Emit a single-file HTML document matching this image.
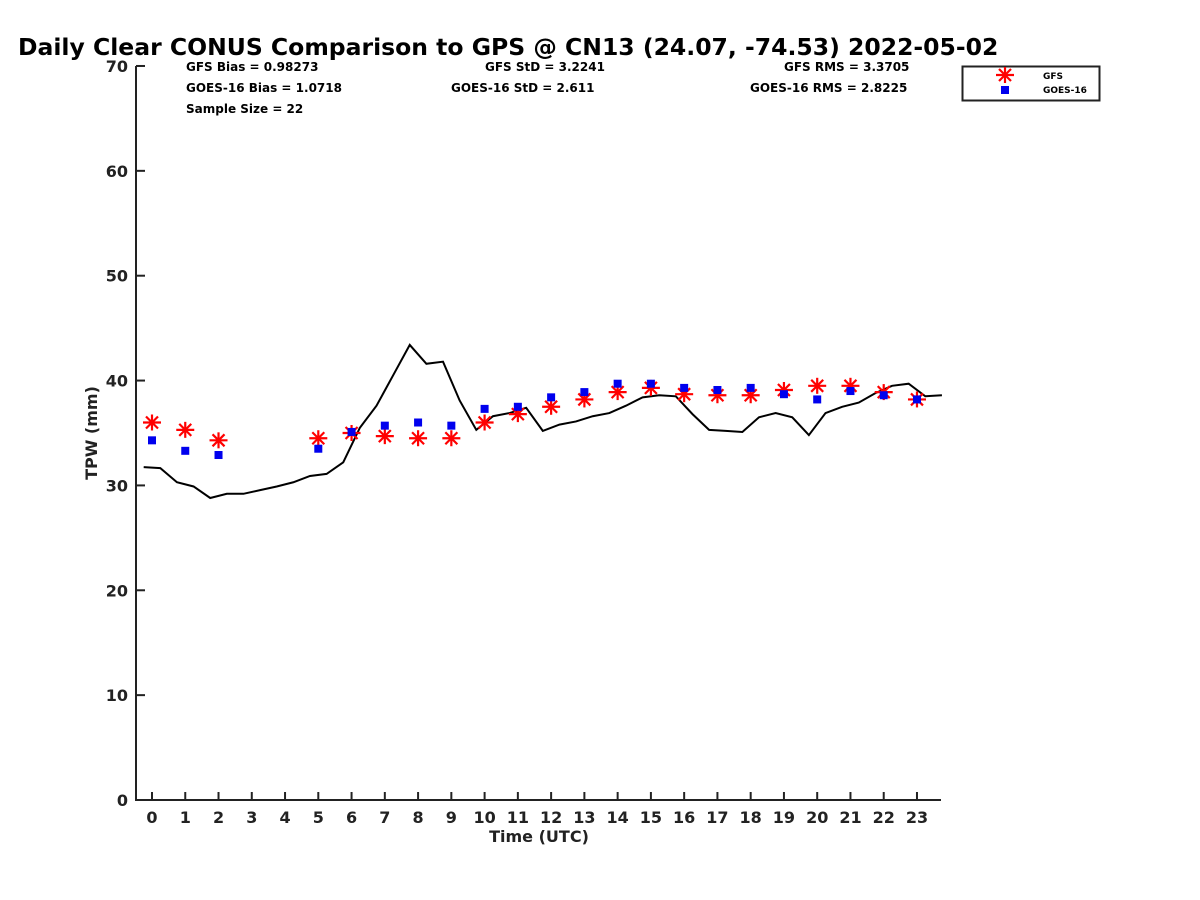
<!DOCTYPE html>
<html><head><meta charset="utf-8"><style>
body{margin:0;background:#fff;}
svg{display:block;font-family:"DejaVu Sans","Liberation Sans",sans-serif;}
</style></head><body>
<svg id="chart" width="1200" height="900">
<text x="18" y="55" font-size="23.5" font-weight="bold">Daily Clear CONUS Comparison to GPS @ CN13 (24.07, -74.53) 2022-05-02</text>
<g font-size="12" font-weight="bold">
<text x="186" y="71">GFS Bias = 0.98273</text>
<text x="186" y="92">GOES-16 Bias = 1.0718</text>
<text x="186" y="113">Sample Size = 22</text>
<text x="485" y="71">GFS StD = 3.2241</text>
<text x="451" y="92">GOES-16 StD = 2.611</text>
<text x="784" y="71">GFS RMS = 3.3705</text>
<text x="750" y="92">GOES-16 RMS = 2.8225</text>
</g>
<g id="axes"></g>
<g id="marks"></g>
<g>
<rect x="962.5" y="66.5" width="137" height="34" fill="#fff" stroke="#222" stroke-width="2"/>
<g stroke="red" stroke-width="2.2">
<line x1="996" y1="75" x2="1014" y2="75"/><line x1="1005" y1="67" x2="1005" y2="83"/>
<line x1="999" y1="69" x2="1011" y2="81"/><line x1="999" y1="81" x2="1011" y2="69"/></g>
<rect x="1001" y="86" width="8" height="8" fill="#0000ee"/>
<text x="1043" y="79" font-size="9" font-weight="bold">GFS</text>
<text x="1043" y="93" font-size="9" font-weight="bold">GOES-16</text>
</g>
</svg>
<script>
const hours=[0,1,2,5,6,7,8,9,10,11,12,13,14,15,16,17,18,19,20,21,22,23];
const gfs=[36.0,35.3,34.3,34.5,35.0,34.7,34.5,34.5,36.0,36.8,37.5,38.2,38.9,39.3,38.7,38.6,38.6,39.1,39.5,39.5,38.9,38.2];
const goes=[34.3,33.3,32.9,33.5,35.1,35.7,36.0,35.7,37.3,37.5,38.4,38.9,39.7,39.7,39.3,39.1,39.3,38.7,38.2,39.0,38.6,38.2];
const gpsTimes=[-0.25,0.25,0.75,1.25,1.75,2.25,2.75,3.25,3.75,4.25,4.75,5.25,5.75,6.25,6.75,7.25,7.75,8.25,8.75,9.25,9.75,10.25,10.75,11.25,11.75,12.25,12.75,13.25,13.75,14.25,14.75,15.25,15.75,16.25,16.75,17.25,17.75,18.25,18.75,19.25,19.75,20.25,20.75,21.25,21.75,22.25,22.75,23.25,23.75];
const gps=[31.75,31.65,30.3,29.9,28.8,29.2,29.2,29.55,29.9,30.3,30.9,31.1,32.2,35.5,37.6,40.5,43.4,41.6,41.8,38.1,35.3,36.6,36.9,37.4,35.2,35.8,36.1,36.6,36.9,37.6,38.4,38.6,38.5,36.8,35.3,35.2,35.1,36.5,36.9,36.5,34.8,36.9,37.5,37.9,38.8,39.5,39.7,38.5,38.6];
const yTicks=[0,10,20,30,40,50,60,70];
const xTicks=[0,1,2,3,4,5,6,7,8,9,10,11,12,13,14,15,16,17,18,19,20,21,22,23];
const NS='http://www.w3.org/2000/svg';
const X=v=>152+v*33.26;
const Y=v=>800-v*10.486;
function mk(tag,attrs,parent){const e=document.createElementNS(NS,tag);for(const k in attrs)e.setAttribute(k,attrs[k]);parent.appendChild(e);return e;}
const ax=document.getElementById('axes'),mg=document.getElementById('marks');
let e=mk('line',{x1:136,y1:800,x2:941,y2:800,stroke:'#222','stroke-width':2},ax);


e=mk('line',{x1:136,y1:66,x2:136,y2:801,stroke:'#222','stroke-width':2},ax);


yTicks.forEach(t=>{
 mk('line',{x1:136,y1:Y(t),x2:145,y2:Y(t),stroke:'#222','stroke-width':2},ax);
 const tx=mk('text',{x:128,y:Y(t)+6,'text-anchor':'end','font-size':16,'font-weight':'bold',fill:'#222'},ax);
 tx.textContent=t;
 
 
});
xTicks.forEach(t=>{
 mk('line',{x1:X(t),y1:800,x2:X(t),y2:792,stroke:'#222','stroke-width':2},ax);
 const tx=mk('text',{x:X(t),y:823,'text-anchor':'middle','font-size':16,'font-weight':'bold',fill:'#222'},ax);
 tx.textContent=t;
 
 
});
e=mk('text',{x:539,y:842,'text-anchor':'middle','font-size':16,'font-weight':'bold',fill:'#222'},ax);
e.textContent='Time (UTC)';


e=mk('text',{x:97,y:433,'text-anchor':'middle','font-size':16,'font-weight':'bold',fill:'#222',transform:'rotate(-90 97 433)'},ax);
e.textContent='TPW (mm)';


e=mk('polyline',{points:gpsTimes.map((t,i)=>X(t)+','+Y(gps[i])).join(' '),fill:'none',stroke:'#000','stroke-width':2},mg);


hours.forEach((h,i)=>{
 const x=X(h),y=Y(gfs[i]);
 const g=mk('g',{stroke:'red','stroke-width':2.2},mg);
 
 
 mk('line',{x1:x-9,y1:y,x2:x+9,y2:y},g);mk('line',{x1:x,y1:y-8,x2:x,y2:y+8},g);
 mk('line',{x1:x-6,y1:y-6,x2:x+6,y2:y+6},g);mk('line',{x1:x-6,y1:y+6,x2:x+6,y2:y-6},g);
});
hours.forEach((h,i)=>{
 const r=mk('rect',{x:X(h)-4,y:Y(goes[i])-4,width:8,height:8,fill:'#0000ee'},mg);
 
 
});
</script>
</body></html>
